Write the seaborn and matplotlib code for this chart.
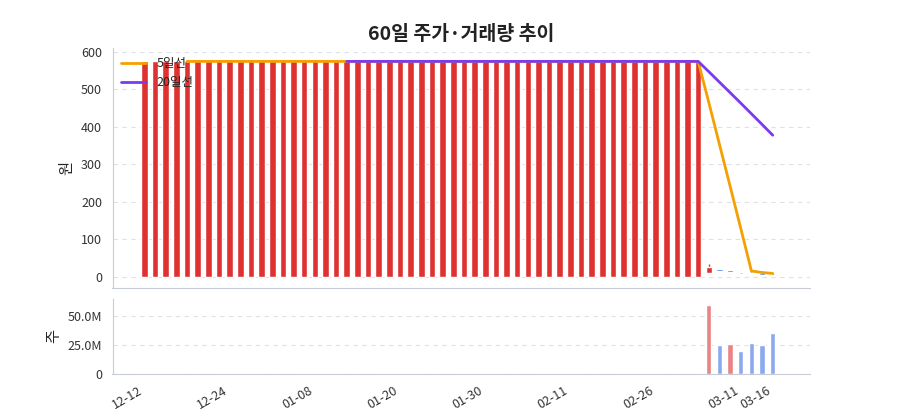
import numpy as np, pandas as pd
import matplotlib
matplotlib.use("Agg")
import matplotlib.pyplot as plt
import seaborn as sns

sns.set_style("white")
plt.rcParams['font.family'] = ['Noto Sans CJK KR', 'DejaVu Sans']

n_flat = 53
opens = [0.0]*n_flat + [10, 20, 13, 14, 11, 9, 5]
closes = [575.0]*n_flat + [25, 15, 17, 12, 7, 5, 2]
highs = [575.0]*n_flat + [35, 21, 19, 15, 12, 10, 6]
lows = [0.0]*n_flat + [10, 14, 12, 11, 6, 4, 1]
volumes = [0.0]*n_flat + [60e6, 25e6, 26e6, 20e6, 27e6, 25e6, 35e6]
tick_idx = [0, 8, 16, 24, 32, 40, 48, 56, 59]
tick_labels = ["12-12", "12-24", "01-08", "01-20", "01-30", "02-11", "02-26", "03-11", "03-16"]

df = pd.DataFrame({"x": np.arange(len(closes)), "open": opens, "close": closes,
                   "high": highs, "low": lows, "vol": volumes})
df["ma5"] = df["close"].rolling(5).mean()
df["ma20"] = df["close"].rolling(20).mean()
up = df["close"] >= df["open"]
RED, BLUE = "#e03131", "#1c6fe0"
cols = np.where(up, RED, BLUE)

fig, (ax, axv) = plt.subplots(2, 1, figsize=(9, 4.2), dpi=100, sharex=True,
                              gridspec_kw={"height_ratios": [3.2, 1], "hspace": 0.07})
fig.subplots_adjust(left=0.125, right=0.9, top=0.885, bottom=0.11)

ax.vlines(df["x"], df["low"], df["high"], colors=cols, lw=1, zorder=2)
ax.bar(df["x"], (df["close"] - df["open"]).abs().clip(lower=3), bottom=np.minimum(df["open"], df["close"]),
       width=0.62, color=cols, zorder=3)
sns.lineplot(data=df, x="x", y="ma5", ax=ax, color="#f59f00", lw=2, label="5일선", zorder=4)
sns.lineplot(data=df, x="x", y="ma20", ax=ax, color="#7c3aed", lw=2, label="20일선", zorder=4)
ax.legend(loc="upper left", frameon=False, fontsize=9, handlelength=2, borderaxespad=0.3)
ax.set_ylim(-30, 610)
ax.set_yticks([0, 100, 200, 300, 400, 500, 600])
ax.set_ylabel("원", fontsize=11)
ax.set_xlabel("")
ax.set_title("60일 주가·거래량 추이", fontsize=14, fontweight="bold", color="#222")

vcols = np.where(up, "#e88484", "#8aa9ee")
axv.bar(df["x"], df["vol"], width=0.5, color=vcols)
axv.set_ylim(0, 65e6)
axv.set_yticks([0, 25e6, 50e6])
axv.set_yticklabels(["0", "25.0M", "50.0M"])
axv.set_ylabel("주", fontsize=11)
axv.set_xlim(-3, 62.5)
axv.set_xticks(tick_idx)
axv.set_xticklabels(tick_labels, rotation=30, ha="right")

for a in (ax, axv):
    a.grid(axis="y", ls=(0, (4, 4)), color="#dde1e8", lw=0.8)
    a.set_axisbelow(True)
    for s in ("top", "right"):
        a.spines[s].set_visible(False)
    for s in ("left", "bottom"):
        a.spines[s].set_color("#c8ccd4")
    a.tick_params(axis="both", labelsize=9, colors="#333", length=4)
ax.tick_params(axis="x", labelbottom=False)

fig.savefig("out.png")
